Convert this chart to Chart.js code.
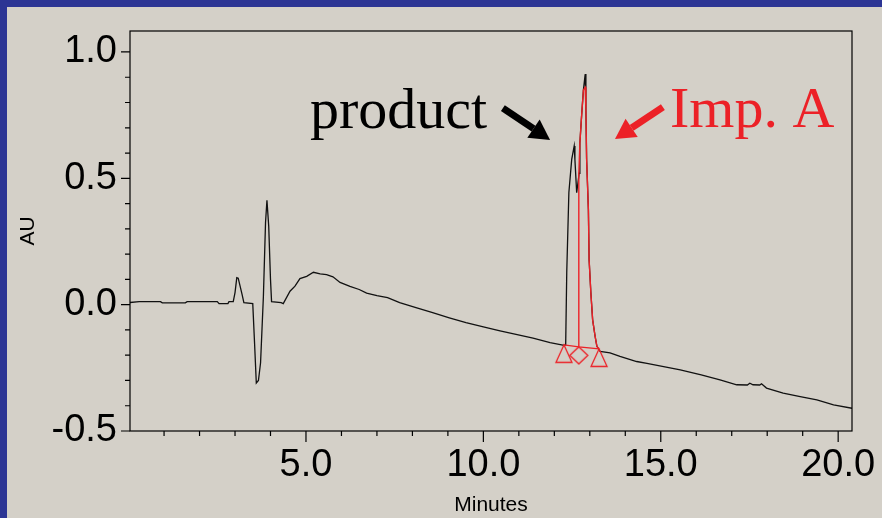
<!DOCTYPE html>
<html>
<head>
<meta charset="utf-8">
<script src="https://cdn.jsdelivr.net/npm/chart.js@4.4.1/dist/chart.umd.min.js"></script>
<style>
  html, body { margin: 0; padding: 0; }
  body { width: 882px; height: 518px; background: #2c3594; overflow: hidden; position: relative; }
  #wrap { position: absolute; left: 7px; top: 7px; width: 875px; height: 511px; background: #d4d0c8; }
</style>
</head>
<body>
<div id="wrap"><canvas id="chromatogram" width="875" height="511"></canvas></div>
<script>
// Detector trace: retention time (min) and absorbance (AU)
const traceTime = [
  0.00, 0.30, 0.90, 0.95, 1.60, 1.65, 2.50, 2.55, 2.80, 2.83, 2.95, 3.00, 3.05, 3.09, 3.14, 3.20, 3.25,
  3.50, 3.55, 3.60, 3.66, 3.72, 3.80, 3.86, 3.90, 3.95, 4.00, 4.03, 4.30, 4.36, 4.55, 4.69, 4.83, 5.02,
  5.21, 5.40, 5.58, 5.76, 5.96, 6.24, 6.50, 6.71, 7.00, 7.30, 7.64, 8.10, 8.57, 9.04, 9.51, 10.00,
  10.47, 10.92, 11.40, 11.88, 12.24, 12.32, 12.35, 12.41, 12.49, 12.56, 12.58, 12.63, 12.70, 12.72,
  12.77, 12.82, 12.87, 12.89, 12.91, 12.96, 12.98, 13.03, 13.08, 13.15, 13.20, 13.29, 13.57, 13.85,
  14.32, 14.61, 15.08, 15.55, 16.14, 16.67, 17.14, 17.44, 17.51, 17.60, 17.79, 17.84, 17.98, 18.45,
  18.93, 19.40, 19.87, 20.39
];
const traceAU = [
  0.008, 0.012, 0.012, 0.007, 0.007, 0.012, 0.012, 0.004, 0.004, 0.012, 0.012, 0.048, 0.107, 0.105, 0.075, 0.040, 0.008,
  0.004, -0.150, -0.310, -0.300, -0.230, 0.033, 0.325, 0.413, 0.310, 0.100, 0.012, 0.008, 0.004, 0.053, 0.073, 0.103, 0.112,
  0.128, 0.122, 0.119, 0.110, 0.088, 0.072, 0.060, 0.046, 0.036, 0.028, 0.008, -0.012, -0.032, -0.052, -0.071, -0.088,
  -0.104, -0.118, -0.132, -0.150, -0.160, -0.159, 0.127, 0.444, 0.575, 0.628, 0.575, 0.443, 0.520, 0.640,
  0.750, 0.850, 0.913, 0.770, 0.575, 0.377, 0.179, 0.046, -0.060, -0.126, -0.165, -0.185, -0.191, -0.205,
  -0.225, -0.232, -0.245, -0.258, -0.278, -0.298, -0.317, -0.318, -0.311, -0.317, -0.318, -0.313, -0.330, -0.350,
  -0.364, -0.377, -0.397, -0.410
];

// Imp. A peak, cut off from the product peak by the drop line
const impTime = [12.69, 12.69, 12.72, 12.77, 12.82, 12.87, 12.89, 12.91, 12.96, 12.98, 13.03, 13.08, 13.15, 13.20, 13.26];
const impAU = [-0.167, 0.515, 0.640, 0.750, 0.850, 0.860, 0.770, 0.575, 0.377, 0.179, 0.046, -0.060, -0.126, -0.165, -0.175];

// Integration marks: peak start, split point, peak end
const markTime = [12.27, 12.69, 13.26];
const markAU = [-0.159, -0.167, -0.175];
const markShape = ['triangle', 'diamond', 'triangle'];

const xTickValues = [5, 10, 15, 20];
const yTickValues = [-0.5, 0, 0.5, 1.0];

const RED = '#ec2127';

// Callout labels with arrows, placed in minutes / AU
const callouts = [
  { text: 'product', color: '#000', at: [5.11, 0.698], from: [10.55, 0.778], to: [11.88, 0.652] },
  { text: 'Imp. A', color: RED, at: [15.26, 0.704], from: [15.06, 0.782], to: [13.71, 0.656] }
];

function points(xs, ys) {
  return xs.map((x, i) => ({ x: x, y: ys[i] }));
}

// marker images with the tip on the data point, shape hanging below it
function markerImage(shape) {
  const c = document.createElement('canvas');
  c.width = 22;
  c.height = 44;
  const g = c.getContext('2d');
  g.strokeStyle = RED;
  g.lineWidth = 1.3;
  g.beginPath();
  if (shape === 'triangle') {
    g.moveTo(11, 22); g.lineTo(19, 39.5); g.lineTo(3, 39.5);
  } else {
    g.moveTo(11, 22); g.lineTo(20, 30.5); g.lineTo(11, 39); g.lineTo(2, 30.5);
  }
  g.closePath();
  g.stroke();
  return c;
}

function drawArrow(ctx, x0, y0, x1, y1, color) {
  const ang = Math.atan2(y1 - y0, x1 - x0);
  const head = 20, half = 11;
  const bx = x1 - head * Math.cos(ang), by = y1 - head * Math.sin(ang);
  ctx.strokeStyle = color;
  ctx.lineWidth = 7;
  ctx.beginPath();
  ctx.moveTo(x0, y0);
  ctx.lineTo(bx, by);
  ctx.stroke();
  ctx.fillStyle = color;
  ctx.beginPath();
  ctx.moveTo(x1, y1);
  ctx.lineTo(bx + half * Math.sin(ang), by - half * Math.cos(ang));
  ctx.lineTo(bx - half * Math.sin(ang), by + half * Math.cos(ang));
  ctx.closePath();
  ctx.fill();
}

// plot frame plus major/minor tick marks
const axisMarks = {
  id: 'axisMarks',
  afterDraw(chart) {
    const { ctx, chartArea: a, scales: { x, y } } = chart;
    ctx.save();
    ctx.strokeStyle = '#000';
    ctx.lineWidth = 1.2;
    ctx.strokeRect(a.left, a.top, a.right - a.left, a.bottom - a.top);
    ctx.lineWidth = 1.2;
    ctx.beginPath();
    for (let m = 1; m <= 20; m++) {
      const px = x.getPixelForValue(m);
      const len = m % 5 === 0 ? 11 : 5;
      ctx.moveTo(px, a.bottom);
      ctx.lineTo(px, a.bottom + len);
    }
    for (let k = -5; k <= 10; k++) {
      const py = y.getPixelForValue(k / 10);
      const len = k % 5 === 0 ? 9 : 5;
      ctx.moveTo(a.left - len, py);
      ctx.lineTo(a.left, py);
    }
    ctx.stroke();
    ctx.restore();
  }
};

const calloutPlugin = {
  id: 'callouts',
  afterDatasetsDraw(chart) {
    const { ctx, scales: { x, y } } = chart;
    ctx.save();
    ctx.font = '58px "Liberation Serif"';
    ctx.textAlign = 'left';
    ctx.textBaseline = 'alphabetic';
    callouts.forEach(c => {
      ctx.fillStyle = c.color;
      ctx.fillText(c.text, x.getPixelForValue(c.at[0]), y.getPixelForValue(c.at[1]));
      drawArrow(ctx,
        x.getPixelForValue(c.from[0]), y.getPixelForValue(c.from[1]),
        x.getPixelForValue(c.to[0]), y.getPixelForValue(c.to[1]), c.color);
    });
    ctx.restore();
  }
};

const tickFont = { family: 'Liberation Sans', size: 38 };
const titleFont = { family: 'Liberation Sans', size: 21 };

new Chart(document.getElementById('chromatogram'), {
  type: 'scatter',
  data: {
    datasets: [
      {
        label: 'marks',
        data: points(markTime, markAU),
        showLine: true,
        borderColor: RED,
        borderWidth: 1.3,
        pointStyle: markShape.map(markerImage),
        pointRadius: 6,
        order: 1
      },
      {
        label: 'Imp. A',
        data: points(impTime, impAU),
        showLine: true,
        borderColor: RED,
        borderWidth: 1.4,
        pointRadius: 0,
        order: 2
      },
      {
        label: 'trace',
        data: points(traceTime, traceAU),
        showLine: true,
        borderColor: '#111',
        borderWidth: 1.3,
        pointRadius: 0,
        order: 3
      }
    ]
  },
  options: {
    responsive: false,
    animation: false,
    devicePixelRatio: 1,
    layout: { padding: { top: 24, right: 30, left: 0, bottom: 0 } },
    plugins: { legend: { display: false }, tooltip: { enabled: false } },
    scales: {
      x: {
        type: 'linear',
        min: 0.04,
        max: 20.39,
        grid: { display: false, drawTicks: false },
        border: { display: false },
        afterBuildTicks: s => { s.ticks = xTickValues.map(v => ({ value: v })); },
        afterFit: s => { s.height = 87; s.paddingLeft = 0; s.paddingRight = 0; },
        ticks: {
          padding: 12, font: tickFont, color: '#000', maxRotation: 0, autoSkip: false,
          callback: v => Number(v).toFixed(1)
        },
        title: { display: true, text: 'Minutes', font: titleFont, color: '#000', padding: { top: 0, bottom: 0 } }
      },
      y: {
        type: 'linear',
        min: -0.5,
        max: 1.083,
        grid: { display: false, drawTicks: false },
        border: { display: false },
        afterBuildTicks: s => { s.ticks = yTickValues.map(v => ({ value: v })); },
        afterFit: s => { s.width = 123; s.paddingTop = 0; s.paddingBottom = 0; },
        ticks: {
          padding: 13, font: tickFont, color: '#000', autoSkip: false,
          callback: v => Number(v).toFixed(1)
        },
        title: { display: true, text: 'AU', font: titleFont, color: '#000', padding: { top: 9, bottom: 0 } }
      }
    }
  },
  plugins: [axisMarks, calloutPlugin]
});
</script>
</body>
</html>
